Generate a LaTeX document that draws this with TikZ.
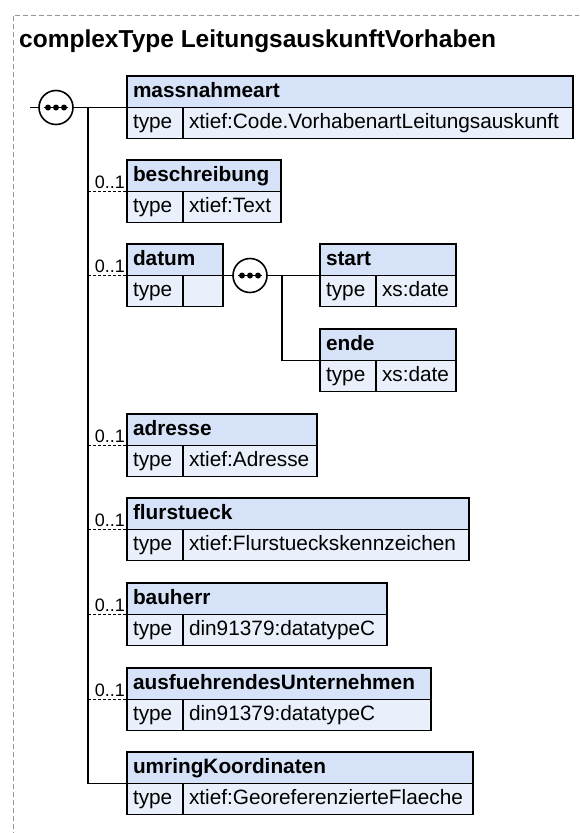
\documentclass[tikz,border=0pt]{standalone}
\usepackage{fontspec}
\setmainfont{Liberation Sans}
\usepackage{tikz}
\usetikzlibrary{positioning}

\definecolor{headblue}{RGB}{214,226,247}
\definecolor{rowblue}{RGB}{234,240,251}
\definecolor{framegray}{RGB}{150,150,150}

\begin{document}
\begin{tikzpicture}[x=1pt, y=-1pt,
		head/.style={
			rectangle,
			draw=black,
			line width=1.6pt,
			fill=headblue,
			anchor=north west,
			outer sep=0pt,
			inner xsep=6pt,
			inner ysep=0pt,
			minimum height=31.5pt,
			text height=15pt,
			text depth=4.5pt,
			align=left,
			font=\bfseries\fontsize{20.8}{24}\selectfont
		},
		cell/.style={
			rectangle,
			draw=black,
			line width=1.6pt,
			fill=rowblue,
			anchor=north west,
			outer sep=0pt,
			inner xsep=6pt,
			inner ysep=0pt,
			minimum height=31pt,
			text height=15pt,
			text depth=4.5pt,
			align=left,
			font=\fontsize{20.8}{24}\selectfont
		},
		typecell/.style={cell, text width=44pt},
		seq/.style={
			circle,
			draw=black,
			line width=1.6pt,
			fill=white,
			minimum size=34pt,
			inner sep=0pt,
			outer sep=0pt
		},
		link/.style={line width=1.5pt},
		optlink/.style={line width=1.5pt, dash pattern=on 3pt off 2pt},
		mult/.style={
			anchor=south east,
			inner xsep=2pt,
			inner ysep=2.5pt,
			font=\fontsize{18}{21}\selectfont
		}
		]
		
		\useasboundingbox (0,0) rectangle (579,833);
		\clip (0,0) rectangle (579,833);
		
		% Frame and title
		\draw[framegray, line width=1pt, dash pattern=on 5pt off 3pt] (13,845) -- (13,15) -- (590,15);
		\node[anchor=base west, inner sep=0pt, font=\bfseries\fontsize{24.5}{28}\selectfont] (title) at (19,47)
		{complexType LeitungsauskunftVorhaben};
		
		% Elements
		\node[head, text width=434pt] (massnahmeart) at (127,76) {massnahmeart};
		\node[typecell] (massnahmeart-type) at (massnahmeart.south west) {type};
		\node[cell, text width=378pt] (massnahmeart-val) at (massnahmeart-type.north east) {xtief:Code.VorhabenartLeitungsauskunft};
		
		\node[head, text width=142pt] (beschreibung) at (127,160) {beschreibung};
		\node[typecell] (beschreibung-type) at (beschreibung.south west) {type};
		\node[cell, text width=86pt] (beschreibung-val) at (beschreibung-type.north east) {xtief:Text};
		
		\node[head, text width=84pt] (datum) at (127,244) {datum};
		\node[typecell] (datum-type) at (datum.south west) {type};
		\node[cell, text width=28pt] (datum-val) at (datum-type.north east) {};
		
		\node[head, text width=124pt] (start) at (320,244) {start};
		\node[typecell] (start-type) at (start.south west) {type};
		\node[cell, text width=68pt] (start-val) at (start-type.north east) {xs:date};
		
		\node[head, text width=124pt] (ende) at (320,329) {ende};
		\node[typecell] (ende-type) at (ende.south west) {type};
		\node[cell, text width=68pt] (ende-val) at (ende-type.north east) {xs:date};
		
		\node[head, text width=178pt] (adresse) at (127,414) {adresse};
		\node[typecell] (adresse-type) at (adresse.south west) {type};
		\node[cell, text width=122pt] (adresse-val) at (adresse-type.north east) {xtief:Adresse};
		
		\node[head, text width=330pt] (flurstueck) at (127,498) {flurstueck};
		\node[typecell] (flurstueck-type) at (flurstueck.south west) {type};
		\node[cell, text width=274pt] (flurstueck-val) at (flurstueck-type.north east) {xtief:Flurstueckskennzeichen};
		
		\node[head, text width=248pt] (bauherr) at (127,583) {bauherr};
		\node[typecell] (bauherr-type) at (bauherr.south west) {type};
		\node[cell, text width=192pt] (bauherr-val) at (bauherr-type.north east) {din91379:datatypeC};
		
		\node[head, text width=292pt] (unternehmen) at (127,668) {ausfuehrendesUnternehmen};
		\node[typecell] (unternehmen-type) at (unternehmen.south west) {type};
		\node[cell, text width=236pt] (unternehmen-val) at (unternehmen-type.north east) {din91379:datatypeC};
		
		\node[head, text width=334pt] (umring) at (127,752) {umringKoordinaten};
		\node[typecell] (umring-type) at (umring.south west) {type};
		\node[cell, text width=278pt] (umring-val) at (umring-type.north east) {xtief:GeoreferenzierteFlaeche};
		
		% Sequences
		\node[seq] (seq1) at (56,107.5) {};
		\node[seq] (seq2) at (250,275.5) {};
		\foreach \s in {seq1, seq2} {
			\draw[line width=1.6pt] ([xshift=-12pt]\s.center) -- ([xshift=12pt]\s.center);
			\foreach \dx in {-8,0,8}
				\fill ([xshift=\dx pt]\s.center) circle (3pt);
		}
		
		% Connectors
		\coordinate (in) at (30,107.5);
		\coordinate (trunk) at (88,107.5);
		\coordinate (trunk2) at (282,275.5);
		\draw[link] (in) -- (seq1);
		\draw[link] (seq1) -- (massnahmeart.south west);
		\draw[link] (trunk) |- (umring.south west);
		\draw[optlink] (trunk |- beschreibung.south west) -- (beschreibung.south west);
		\draw[optlink] (trunk |- datum.south west) -- (datum.south west);
		\draw[optlink] (trunk |- adresse.south west) -- (adresse.south west);
		\draw[optlink] (trunk |- flurstueck.south west) -- (flurstueck.south west);
		\draw[optlink] (trunk |- bauherr.south west) -- (bauherr.south west);
		\draw[optlink] (trunk |- unternehmen.south west) -- (unternehmen.south west);
		\draw[link] (datum.south east) -- (seq2);
		\draw[link] (seq2) -- (start.south west);
		\draw[link] (trunk2) |- (ende.south west);
		
		% Multiplicities
		\node[mult] (m-beschreibung) at (beschreibung.south west) {0..1};
		\node[mult] (m-datum) at (datum.south west) {0..1};
		\node[mult] (m-adresse) at (adresse.south west) {0..1};
		\node[mult] (m-flurstueck) at (flurstueck.south west) {0..1};
		\node[mult] (m-bauherr) at (bauherr.south west) {0..1};
		\node[mult] (m-unternehmen) at (unternehmen.south west) {0..1};
		
	\end{tikzpicture}
\end{document}
